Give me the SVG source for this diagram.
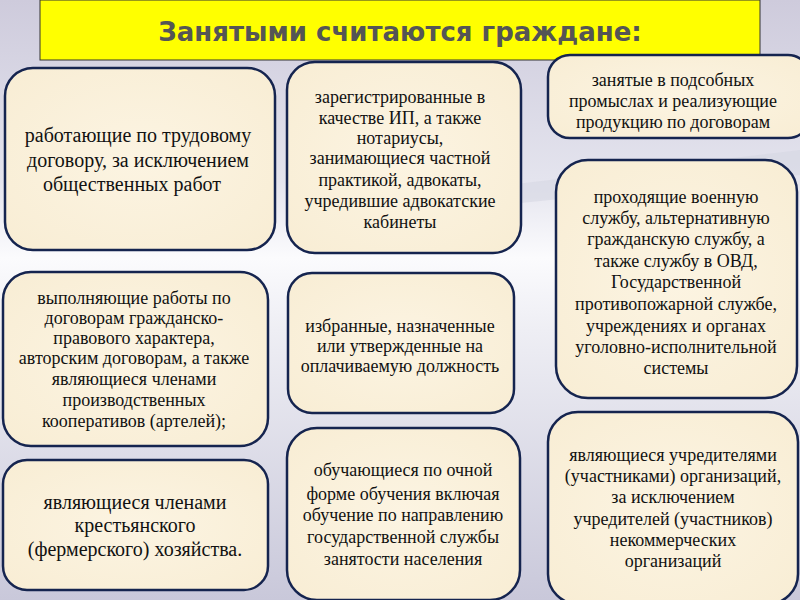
<svg xmlns="http://www.w3.org/2000/svg" width="800" height="600" viewBox="0 0 800 600">
<defs>
<linearGradient id="bg" x1="0" y1="0" x2="0" y2="1">
<stop offset="0" stop-color="#cecbdc"/>
<stop offset="0.3" stop-color="#e4e4ee"/>
<stop offset="0.43" stop-color="#fbfbfd"/>
<stop offset="0.55" stop-color="#eeeef4"/>
<stop offset="1" stop-color="#c9c8da"/>
</linearGradient>
<radialGradient id="parch" cx="0.5" cy="0.5" r="0.7">
<stop offset="0" stop-color="#fcf4e2"/>
<stop offset="1" stop-color="#f8edd4"/>
</radialGradient>
<style>
.box{fill:url(#parch);stroke:#15244f;stroke-width:2.5}
.t{font-family:"Liberation Serif","DejaVu Serif",serif;fill:#111;text-anchor:middle}
.s18{font-size:18px}
.s20{font-size:20px}
</style>
</defs>
<rect width="800" height="600" fill="url(#bg)"/>
<path d="M300 210 L800 150 L800 175 L300 225 Z" fill="#d6d7e2" opacity="0.6"/>
<g id="title">
<rect x="40" y="0" width="720" height="60" fill="#ffff00" stroke="#333" stroke-width="1"/>
<text x="400" y="41" font-family="'DejaVu Sans','Liberation Sans',sans-serif" font-weight="bold" font-size="26" fill="#555" text-anchor="middle">Занятыми считаются граждане:</text>
</g>
<g id="connectors"></g>
<g id="n1">
<rect class="box" x="5" y="68" width="270" height="182" rx="28"/>
<text class="t s20"><tspan x="138" y="142">работающие по трудовому</tspan><tspan x="138" y="167">договору, за исключением</tspan><tspan x="132" y="191">общественных работ</tspan></text>
</g>
<g id="n2">
<rect class="box" x="287" y="62" width="234" height="191" rx="28"/>
<text class="t s18"><tspan x="400" y="103">зарегистрированные  в</tspan><tspan x="400" y="124">качестве ИП, а также</tspan><tspan x="400" y="144">нотариусы,</tspan><tspan x="400" y="164">занимающиеся частной</tspan><tspan x="400" y="186">практикой, адвокаты,</tspan><tspan x="400" y="207">учредившие адвокатские</tspan><tspan x="400" y="228">кабинеты</tspan></text>
</g>
<g id="n3">
<rect class="box" x="548" y="55" width="262" height="83" rx="22"/>
<text class="t s18"><tspan x="673" y="86">занятые в подсобных</tspan><tspan x="673" y="107">промыслах и реализующие</tspan><tspan x="673" y="128">продукцию по договорам</tspan></text>
</g>
<g id="n4">
<rect class="box" x="556" y="160" width="241" height="238" rx="32"/>
<text class="t s18"><tspan x="676" y="203">проходящие военную</tspan><tspan x="676" y="224">службу, альтернативную</tspan><tspan x="676" y="245">гражданскую службу, а</tspan><tspan x="676" y="267">также службу в ОВД,</tspan><tspan x="676" y="288">Государственной</tspan><tspan x="676" y="310">противопожарной службе,</tspan><tspan x="676" y="332">учреждениях и органах</tspan><tspan x="676" y="353">уголовно-исполнительной</tspan><tspan x="676" y="374">системы</tspan></text>
</g>
<g id="n5">
<rect class="box" x="3" y="272" width="265" height="174" rx="28" stroke-width="1.2"/>
<text class="t s18"><tspan x="134" y="304">выполняющие работы по</tspan><tspan x="134" y="324">договорам гражданско-</tspan><tspan x="134" y="344">правового характера,</tspan><tspan x="134" y="364">авторским договорам, а также</tspan><tspan x="134" y="385">являющиеся членами</tspan><tspan x="134" y="406">производственных</tspan><tspan x="134" y="427">кооперативов (артелей);</tspan></text>
</g>
<g id="n6">
<rect class="box" x="288" y="273" width="226" height="140" rx="24"/>
<text class="t s18"><tspan x="400" y="332">избранные, назначенные</tspan><tspan x="400" y="352">или утвержденные на</tspan><tspan x="400" y="372">оплачиваемую должность</tspan></text>
</g>
<g id="n7">
<rect class="box" x="3" y="460" width="265" height="130" rx="24"/>
<text class="t s20"><tspan x="135" y="509">являющиеся членами</tspan><tspan x="135" y="532">крестьянского</tspan><tspan x="135" y="556">(фермерского) хозяйства.</tspan></text>
</g>
<g id="n8">
<rect class="box" x="287" y="428" width="233" height="172" rx="30"/>
<text class="t s18"><tspan x="403" y="476">обучающиеся по очной</tspan><tspan x="403" y="500">форме обучения  включая</tspan><tspan x="403" y="521">обучение по направлению</tspan><tspan x="403" y="543">государственной службы</tspan><tspan x="403" y="565">занятости населения</tspan></text>
</g>
<g id="n9">
<rect class="box" x="548" y="412" width="250" height="192" rx="30"/>
<text class="t s18"><tspan x="673" y="461">являющиеся учредителями</tspan><tspan x="673" y="482">(участниками) организаций,</tspan><tspan x="673" y="503">за исключением</tspan><tspan x="673" y="525">учредителей (участников)</tspan><tspan x="673" y="546">некоммерческих</tspan><tspan x="673" y="567">организаций</tspan></text>
</g>
</svg>
